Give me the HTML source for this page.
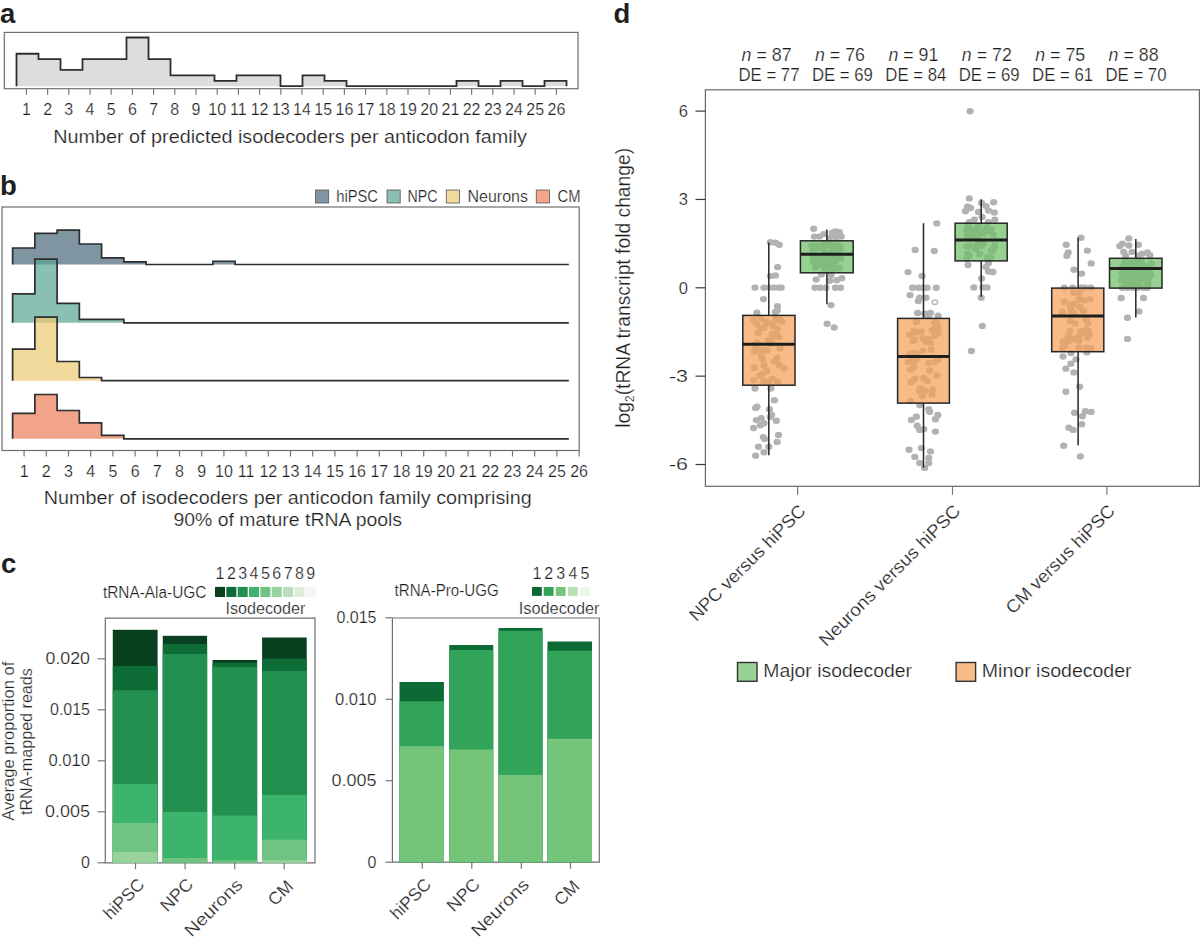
<!DOCTYPE html>
<html><head><meta charset="utf-8"><style>
html,body{margin:0;padding:0;background:#fff;width:1200px;height:938px;overflow:hidden}
svg{display:block;font-family:"Liberation Sans",sans-serif}
text{stroke:#fff;stroke-width:0.22px;paint-order:normal}
text.lab{stroke:none}
</style></head><body>
<svg width="1200" height="938" viewBox="0 0 1200 938">
<text class="lab" x="0" y="23" font-size="27.5" font-weight="bold" fill="#231f20">a</text>
<rect x="4.3" y="32.4" width="573.7" height="56.3" fill="none" stroke="#6e6e6e" stroke-width="1.2"/>
<path d="M16.50,86.20 L16.50,53.74 L38.50,53.74 L38.50,59.15 L60.50,59.15 L60.50,69.97 L82.50,69.97 L82.50,59.15 L104.50,59.15 L104.50,59.15 L126.50,59.15 L126.50,37.51 L148.50,37.51 L148.50,59.15 L170.50,59.15 L170.50,75.38 L192.50,75.38 L192.50,75.38 L214.50,75.38 L214.50,80.79 L236.50,80.79 L236.50,75.38 L258.50,75.38 L258.50,75.38 L280.50,75.38 L280.50,86.20 L302.50,86.20 L302.50,75.38 L324.50,75.38 L324.50,80.79 L346.50,80.79 L346.50,86.20 L368.50,86.20 L368.50,86.20 L390.50,86.20 L390.50,86.20 L412.50,86.20 L412.50,86.20 L434.50,86.20 L434.50,86.20 L456.50,86.20 L456.50,80.79 L478.50,80.79 L478.50,86.20 L500.50,86.20 L500.50,80.79 L522.50,80.79 L522.50,86.20 L544.50,86.20 L544.50,80.79 L566.50,80.79 L566.50,86.20 Z" fill="#dcdddf" stroke="none"/>
<path d="M16.50,86.20 L16.50,53.74 L38.50,53.74 L38.50,59.15 L60.50,59.15 L60.50,69.97 L82.50,69.97 L82.50,59.15 L104.50,59.15 L104.50,59.15 L126.50,59.15 L126.50,37.51 L148.50,37.51 L148.50,59.15 L170.50,59.15 L170.50,75.38 L192.50,75.38 L192.50,75.38 L214.50,75.38 L214.50,80.79 L236.50,80.79 L236.50,75.38 L258.50,75.38 L258.50,75.38 L280.50,75.38 L280.50,86.20 L302.50,86.20 L302.50,75.38 L324.50,75.38 L324.50,80.79 L346.50,80.79 L346.50,86.20 L368.50,86.20 L368.50,86.20 L390.50,86.20 L390.50,86.20 L412.50,86.20 L412.50,86.20 L434.50,86.20 L434.50,86.20 L456.50,86.20 L456.50,80.79 L478.50,80.79 L478.50,86.20 L500.50,86.20 L500.50,80.79 L522.50,80.79 L522.50,86.20 L544.50,86.20 L544.50,80.79 L566.50,80.79 L566.50,86.20" fill="none" stroke="#2e2e2e" stroke-width="1.8" stroke-linejoin="miter"/>
<line x1="26.40" y1="88.7" x2="26.40" y2="94.8" stroke="#777" stroke-width="1.2"/>
<text x="26.40" y="115.20" font-size="16" text-anchor="middle" fill="#1e1e1e">1</text>
<line x1="47.60" y1="88.7" x2="47.60" y2="94.8" stroke="#777" stroke-width="1.2"/>
<text x="47.60" y="115.20" font-size="16" text-anchor="middle" fill="#1e1e1e">2</text>
<line x1="68.80" y1="88.7" x2="68.80" y2="94.8" stroke="#777" stroke-width="1.2"/>
<text x="68.80" y="115.20" font-size="16" text-anchor="middle" fill="#1e1e1e">3</text>
<line x1="90.00" y1="88.7" x2="90.00" y2="94.8" stroke="#777" stroke-width="1.2"/>
<text x="90.00" y="115.20" font-size="16" text-anchor="middle" fill="#1e1e1e">4</text>
<line x1="111.20" y1="88.7" x2="111.20" y2="94.8" stroke="#777" stroke-width="1.2"/>
<text x="111.20" y="115.20" font-size="16" text-anchor="middle" fill="#1e1e1e">5</text>
<line x1="132.40" y1="88.7" x2="132.40" y2="94.8" stroke="#777" stroke-width="1.2"/>
<text x="132.40" y="115.20" font-size="16" text-anchor="middle" fill="#1e1e1e">6</text>
<line x1="153.60" y1="88.7" x2="153.60" y2="94.8" stroke="#777" stroke-width="1.2"/>
<text x="153.60" y="115.20" font-size="16" text-anchor="middle" fill="#1e1e1e">7</text>
<line x1="174.80" y1="88.7" x2="174.80" y2="94.8" stroke="#777" stroke-width="1.2"/>
<text x="174.80" y="115.20" font-size="16" text-anchor="middle" fill="#1e1e1e">8</text>
<line x1="196.00" y1="88.7" x2="196.00" y2="94.8" stroke="#777" stroke-width="1.2"/>
<text x="196.00" y="115.20" font-size="16" text-anchor="middle" fill="#1e1e1e">9</text>
<line x1="217.20" y1="88.7" x2="217.20" y2="94.8" stroke="#777" stroke-width="1.2"/>
<text x="217.20" y="115.20" font-size="16" text-anchor="middle" fill="#1e1e1e">10</text>
<line x1="238.40" y1="88.7" x2="238.40" y2="94.8" stroke="#777" stroke-width="1.2"/>
<text x="238.40" y="115.20" font-size="16" text-anchor="middle" fill="#1e1e1e">11</text>
<line x1="259.60" y1="88.7" x2="259.60" y2="94.8" stroke="#777" stroke-width="1.2"/>
<text x="259.60" y="115.20" font-size="16" text-anchor="middle" fill="#1e1e1e">12</text>
<line x1="280.80" y1="88.7" x2="280.80" y2="94.8" stroke="#777" stroke-width="1.2"/>
<text x="280.80" y="115.20" font-size="16" text-anchor="middle" fill="#1e1e1e">13</text>
<line x1="302.00" y1="88.7" x2="302.00" y2="94.8" stroke="#777" stroke-width="1.2"/>
<text x="302.00" y="115.20" font-size="16" text-anchor="middle" fill="#1e1e1e">14</text>
<line x1="323.20" y1="88.7" x2="323.20" y2="94.8" stroke="#777" stroke-width="1.2"/>
<text x="323.20" y="115.20" font-size="16" text-anchor="middle" fill="#1e1e1e">15</text>
<line x1="344.40" y1="88.7" x2="344.40" y2="94.8" stroke="#777" stroke-width="1.2"/>
<text x="344.40" y="115.20" font-size="16" text-anchor="middle" fill="#1e1e1e">16</text>
<line x1="365.60" y1="88.7" x2="365.60" y2="94.8" stroke="#777" stroke-width="1.2"/>
<text x="365.60" y="115.20" font-size="16" text-anchor="middle" fill="#1e1e1e">17</text>
<line x1="386.80" y1="88.7" x2="386.80" y2="94.8" stroke="#777" stroke-width="1.2"/>
<text x="386.80" y="115.20" font-size="16" text-anchor="middle" fill="#1e1e1e">18</text>
<line x1="408.00" y1="88.7" x2="408.00" y2="94.8" stroke="#777" stroke-width="1.2"/>
<text x="408.00" y="115.20" font-size="16" text-anchor="middle" fill="#1e1e1e">19</text>
<line x1="429.20" y1="88.7" x2="429.20" y2="94.8" stroke="#777" stroke-width="1.2"/>
<text x="429.20" y="115.20" font-size="16" text-anchor="middle" fill="#1e1e1e">20</text>
<line x1="450.40" y1="88.7" x2="450.40" y2="94.8" stroke="#777" stroke-width="1.2"/>
<text x="450.40" y="115.20" font-size="16" text-anchor="middle" fill="#1e1e1e">21</text>
<line x1="471.60" y1="88.7" x2="471.60" y2="94.8" stroke="#777" stroke-width="1.2"/>
<text x="471.60" y="115.20" font-size="16" text-anchor="middle" fill="#1e1e1e">22</text>
<line x1="492.80" y1="88.7" x2="492.80" y2="94.8" stroke="#777" stroke-width="1.2"/>
<text x="492.80" y="115.20" font-size="16" text-anchor="middle" fill="#1e1e1e">23</text>
<line x1="514.00" y1="88.7" x2="514.00" y2="94.8" stroke="#777" stroke-width="1.2"/>
<text x="514.00" y="115.20" font-size="16" text-anchor="middle" fill="#1e1e1e">24</text>
<line x1="535.20" y1="88.7" x2="535.20" y2="94.8" stroke="#777" stroke-width="1.2"/>
<text x="535.20" y="115.20" font-size="16" text-anchor="middle" fill="#1e1e1e">25</text>
<line x1="556.40" y1="88.7" x2="556.40" y2="94.8" stroke="#777" stroke-width="1.2"/>
<text x="556.40" y="115.20" font-size="16" text-anchor="middle" fill="#1e1e1e">26</text>
<text x="53.30" y="142.90" font-size="19" textLength="473.70" lengthAdjust="spacingAndGlyphs" fill="#1e1e1e">Number of predicted isodecoders per anticodon family</text>
<text class="lab" x="0" y="195.3" font-size="27.5" font-weight="bold" fill="#231f20">b</text>
<rect x="315.5" y="190" width="13.2" height="13" fill="#7f95a2" stroke="#555" stroke-width="0.8"/>
<text x="336.25" y="202.20" font-size="16" textLength="41.75" lengthAdjust="spacingAndGlyphs" fill="#1e1e1e">hiPSC</text>
<rect x="387" y="190" width="13.2" height="13" fill="#8bbfb4" stroke="#555" stroke-width="0.8"/>
<text x="407.50" y="202.20" font-size="16" textLength="30.00" lengthAdjust="spacingAndGlyphs" fill="#1e1e1e">NPC</text>
<rect x="446.25" y="190" width="13.2" height="13" fill="#f2d99c" stroke="#555" stroke-width="0.8"/>
<text x="467.50" y="202.20" font-size="16" textLength="60.50" lengthAdjust="spacingAndGlyphs" fill="#1e1e1e">Neurons</text>
<rect x="536.25" y="190" width="13.2" height="13" fill="#f2a58a" stroke="#555" stroke-width="0.8"/>
<text x="557.50" y="202.20" font-size="16" textLength="23.00" lengthAdjust="spacingAndGlyphs" fill="#1e1e1e">CM</text>
<rect x="2" y="207" width="577.2" height="243.5" fill="none" stroke="#6e6e6e" stroke-width="1.2"/>
<path d="M12.60,264.50 L12.60,248.00 L34.85,248.00 L34.85,233.30 L57.10,233.30 L57.10,230.10 L79.35,230.10 L79.35,244.00 L101.60,244.00 L101.60,257.80 L123.85,257.80 L123.85,261.80 L146.10,261.80 L146.10,264.50 L168.35,264.50 L168.35,264.50 L190.60,264.50 L190.60,264.50 L212.85,264.50 L212.85,261.25 L235.10,261.25 L235.10,264.50 L257.35,264.50 L257.35,264.50 L279.60,264.50 L279.60,264.50 L301.85,264.50 L301.85,264.50 L324.10,264.50 L324.10,264.50 L346.35,264.50 L346.35,264.50 L368.60,264.50 L368.60,264.50 L390.85,264.50 L390.85,264.50 L413.10,264.50 L413.10,264.50 L435.35,264.50 L435.35,264.50 L457.60,264.50 L457.60,264.50 L479.85,264.50 L479.85,264.50 L502.10,264.50 L502.10,264.50 L524.35,264.50 L524.35,264.50 L546.60,264.50 L546.60,264.50 L568.85,264.50 L568.85,264.50 Z" fill="#48687a" fill-opacity="0.7" stroke="none"/>
<path d="M12.60,264.50 L12.60,248.00 L34.85,248.00 L34.85,233.30 L57.10,233.30 L57.10,230.10 L79.35,230.10 L79.35,244.00 L101.60,244.00 L101.60,257.80 L123.85,257.80 L123.85,261.80 L146.10,261.80 L146.10,264.50 L168.35,264.50 L168.35,264.50 L190.60,264.50 L190.60,264.50 L212.85,264.50 L212.85,261.25 L235.10,261.25 L235.10,264.50 L257.35,264.50 L257.35,264.50 L279.60,264.50 L279.60,264.50 L301.85,264.50 L301.85,264.50 L324.10,264.50 L324.10,264.50 L346.35,264.50 L346.35,264.50 L368.60,264.50 L368.60,264.50 L390.85,264.50 L390.85,264.50 L413.10,264.50 L413.10,264.50 L435.35,264.50 L435.35,264.50 L457.60,264.50 L457.60,264.50 L479.85,264.50 L479.85,264.50 L502.10,264.50 L502.10,264.50 L524.35,264.50 L524.35,264.50 L546.60,264.50 L546.60,264.50 L568.85,264.50 L568.85,264.50" fill="none" stroke="#2e2e2e" stroke-width="1.7"/>
<path d="M12.60,322.80 L12.60,293.80 L34.85,293.80 L34.85,259.20 L57.10,259.20 L57.10,303.40 L79.35,303.40 L79.35,319.40 L101.60,319.40 L101.60,319.40 L123.85,319.40 L123.85,322.80 L146.10,322.80 L146.10,322.80 L168.35,322.80 L168.35,322.80 L190.60,322.80 L190.60,322.80 L212.85,322.80 L212.85,322.80 L235.10,322.80 L235.10,322.80 L257.35,322.80 L257.35,322.80 L279.60,322.80 L279.60,322.80 L301.85,322.80 L301.85,322.80 L324.10,322.80 L324.10,322.80 L346.35,322.80 L346.35,322.80 L368.60,322.80 L368.60,322.80 L390.85,322.80 L390.85,322.80 L413.10,322.80 L413.10,322.80 L435.35,322.80 L435.35,322.80 L457.60,322.80 L457.60,322.80 L479.85,322.80 L479.85,322.80 L502.10,322.80 L502.10,322.80 L524.35,322.80 L524.35,322.80 L546.60,322.80 L546.60,322.80 L568.85,322.80 L568.85,322.80 Z" fill="#59a494" fill-opacity="0.7" stroke="none"/>
<path d="M12.60,322.80 L12.60,293.80 L34.85,293.80 L34.85,259.20 L57.10,259.20 L57.10,303.40 L79.35,303.40 L79.35,319.40 L101.60,319.40 L101.60,319.40 L123.85,319.40 L123.85,322.80 L146.10,322.80 L146.10,322.80 L168.35,322.80 L168.35,322.80 L190.60,322.80 L190.60,322.80 L212.85,322.80 L212.85,322.80 L235.10,322.80 L235.10,322.80 L257.35,322.80 L257.35,322.80 L279.60,322.80 L279.60,322.80 L301.85,322.80 L301.85,322.80 L324.10,322.80 L324.10,322.80 L346.35,322.80 L346.35,322.80 L368.60,322.80 L368.60,322.80 L390.85,322.80 L390.85,322.80 L413.10,322.80 L413.10,322.80 L435.35,322.80 L435.35,322.80 L457.60,322.80 L457.60,322.80 L479.85,322.80 L479.85,322.80 L502.10,322.80 L502.10,322.80 L524.35,322.80 L524.35,322.80 L546.60,322.80 L546.60,322.80 L568.85,322.80 L568.85,322.80" fill="none" stroke="#2e2e2e" stroke-width="1.7"/>
<path d="M12.60,380.70 L12.60,349.20 L34.85,349.20 L34.85,317.20 L57.10,317.20 L57.10,361.50 L79.35,361.50 L79.35,377.50 L101.60,377.50 L101.60,380.70 L123.85,380.70 L123.85,380.70 L146.10,380.70 L146.10,380.70 L168.35,380.70 L168.35,380.70 L190.60,380.70 L190.60,380.70 L212.85,380.70 L212.85,380.70 L235.10,380.70 L235.10,380.70 L257.35,380.70 L257.35,380.70 L279.60,380.70 L279.60,380.70 L301.85,380.70 L301.85,380.70 L324.10,380.70 L324.10,380.70 L346.35,380.70 L346.35,380.70 L368.60,380.70 L368.60,380.70 L390.85,380.70 L390.85,380.70 L413.10,380.70 L413.10,380.70 L435.35,380.70 L435.35,380.70 L457.60,380.70 L457.60,380.70 L479.85,380.70 L479.85,380.70 L502.10,380.70 L502.10,380.70 L524.35,380.70 L524.35,380.70 L546.60,380.70 L546.60,380.70 L568.85,380.70 L568.85,380.70 Z" fill="#ecc972" fill-opacity="0.7" stroke="none"/>
<path d="M12.60,380.70 L12.60,349.20 L34.85,349.20 L34.85,317.20 L57.10,317.20 L57.10,361.50 L79.35,361.50 L79.35,377.50 L101.60,377.50 L101.60,380.70 L123.85,380.70 L123.85,380.70 L146.10,380.70 L146.10,380.70 L168.35,380.70 L168.35,380.70 L190.60,380.70 L190.60,380.70 L212.85,380.70 L212.85,380.70 L235.10,380.70 L235.10,380.70 L257.35,380.70 L257.35,380.70 L279.60,380.70 L279.60,380.70 L301.85,380.70 L301.85,380.70 L324.10,380.70 L324.10,380.70 L346.35,380.70 L346.35,380.70 L368.60,380.70 L368.60,380.70 L390.85,380.70 L390.85,380.70 L413.10,380.70 L413.10,380.70 L435.35,380.70 L435.35,380.70 L457.60,380.70 L457.60,380.70 L479.85,380.70 L479.85,380.70 L502.10,380.70 L502.10,380.70 L524.35,380.70 L524.35,380.70 L546.60,380.70 L546.60,380.70 L568.85,380.70 L568.85,380.70" fill="none" stroke="#2e2e2e" stroke-width="1.7"/>
<path d="M12.60,438.80 L12.60,413.30 L34.85,413.30 L34.85,394.50 L57.10,394.50 L57.10,410.50 L79.35,410.50 L79.35,422.80 L101.60,422.80 L101.60,435.30 L123.85,435.30 L123.85,438.80 L146.10,438.80 L146.10,438.80 L168.35,438.80 L168.35,438.80 L190.60,438.80 L190.60,438.80 L212.85,438.80 L212.85,438.80 L235.10,438.80 L235.10,438.80 L257.35,438.80 L257.35,438.80 L279.60,438.80 L279.60,438.80 L301.85,438.80 L301.85,438.80 L324.10,438.80 L324.10,438.80 L346.35,438.80 L346.35,438.80 L368.60,438.80 L368.60,438.80 L390.85,438.80 L390.85,438.80 L413.10,438.80 L413.10,438.80 L435.35,438.80 L435.35,438.80 L457.60,438.80 L457.60,438.80 L479.85,438.80 L479.85,438.80 L502.10,438.80 L502.10,438.80 L524.35,438.80 L524.35,438.80 L546.60,438.80 L546.60,438.80 L568.85,438.80 L568.85,438.80 Z" fill="#ec7e58" fill-opacity="0.7" stroke="none"/>
<path d="M12.60,438.80 L12.60,413.30 L34.85,413.30 L34.85,394.50 L57.10,394.50 L57.10,410.50 L79.35,410.50 L79.35,422.80 L101.60,422.80 L101.60,435.30 L123.85,435.30 L123.85,438.80 L146.10,438.80 L146.10,438.80 L168.35,438.80 L168.35,438.80 L190.60,438.80 L190.60,438.80 L212.85,438.80 L212.85,438.80 L235.10,438.80 L235.10,438.80 L257.35,438.80 L257.35,438.80 L279.60,438.80 L279.60,438.80 L301.85,438.80 L301.85,438.80 L324.10,438.80 L324.10,438.80 L346.35,438.80 L346.35,438.80 L368.60,438.80 L368.60,438.80 L390.85,438.80 L390.85,438.80 L413.10,438.80 L413.10,438.80 L435.35,438.80 L435.35,438.80 L457.60,438.80 L457.60,438.80 L479.85,438.80 L479.85,438.80 L502.10,438.80 L502.10,438.80 L524.35,438.80 L524.35,438.80 L546.60,438.80 L546.60,438.80 L568.85,438.80 L568.85,438.80" fill="none" stroke="#2e2e2e" stroke-width="1.7"/>
<line x1="24.10" y1="450.5" x2="24.10" y2="456.5" stroke="#777" stroke-width="1.2"/>
<text x="24.10" y="477.00" font-size="16" text-anchor="middle" fill="#1e1e1e">1</text>
<line x1="46.30" y1="450.5" x2="46.30" y2="456.5" stroke="#777" stroke-width="1.2"/>
<text x="46.30" y="477.00" font-size="16" text-anchor="middle" fill="#1e1e1e">2</text>
<line x1="68.50" y1="450.5" x2="68.50" y2="456.5" stroke="#777" stroke-width="1.2"/>
<text x="68.50" y="477.00" font-size="16" text-anchor="middle" fill="#1e1e1e">3</text>
<line x1="90.70" y1="450.5" x2="90.70" y2="456.5" stroke="#777" stroke-width="1.2"/>
<text x="90.70" y="477.00" font-size="16" text-anchor="middle" fill="#1e1e1e">4</text>
<line x1="112.90" y1="450.5" x2="112.90" y2="456.5" stroke="#777" stroke-width="1.2"/>
<text x="112.90" y="477.00" font-size="16" text-anchor="middle" fill="#1e1e1e">5</text>
<line x1="135.10" y1="450.5" x2="135.10" y2="456.5" stroke="#777" stroke-width="1.2"/>
<text x="135.10" y="477.00" font-size="16" text-anchor="middle" fill="#1e1e1e">6</text>
<line x1="157.30" y1="450.5" x2="157.30" y2="456.5" stroke="#777" stroke-width="1.2"/>
<text x="157.30" y="477.00" font-size="16" text-anchor="middle" fill="#1e1e1e">7</text>
<line x1="179.50" y1="450.5" x2="179.50" y2="456.5" stroke="#777" stroke-width="1.2"/>
<text x="179.50" y="477.00" font-size="16" text-anchor="middle" fill="#1e1e1e">8</text>
<line x1="201.70" y1="450.5" x2="201.70" y2="456.5" stroke="#777" stroke-width="1.2"/>
<text x="201.70" y="477.00" font-size="16" text-anchor="middle" fill="#1e1e1e">9</text>
<line x1="223.90" y1="450.5" x2="223.90" y2="456.5" stroke="#777" stroke-width="1.2"/>
<text x="223.90" y="477.00" font-size="16" text-anchor="middle" fill="#1e1e1e">10</text>
<line x1="246.10" y1="450.5" x2="246.10" y2="456.5" stroke="#777" stroke-width="1.2"/>
<text x="246.10" y="477.00" font-size="16" text-anchor="middle" fill="#1e1e1e">11</text>
<line x1="268.30" y1="450.5" x2="268.30" y2="456.5" stroke="#777" stroke-width="1.2"/>
<text x="268.30" y="477.00" font-size="16" text-anchor="middle" fill="#1e1e1e">12</text>
<line x1="290.50" y1="450.5" x2="290.50" y2="456.5" stroke="#777" stroke-width="1.2"/>
<text x="290.50" y="477.00" font-size="16" text-anchor="middle" fill="#1e1e1e">13</text>
<line x1="312.70" y1="450.5" x2="312.70" y2="456.5" stroke="#777" stroke-width="1.2"/>
<text x="312.70" y="477.00" font-size="16" text-anchor="middle" fill="#1e1e1e">14</text>
<line x1="334.90" y1="450.5" x2="334.90" y2="456.5" stroke="#777" stroke-width="1.2"/>
<text x="334.90" y="477.00" font-size="16" text-anchor="middle" fill="#1e1e1e">15</text>
<line x1="357.10" y1="450.5" x2="357.10" y2="456.5" stroke="#777" stroke-width="1.2"/>
<text x="357.10" y="477.00" font-size="16" text-anchor="middle" fill="#1e1e1e">16</text>
<line x1="379.30" y1="450.5" x2="379.30" y2="456.5" stroke="#777" stroke-width="1.2"/>
<text x="379.30" y="477.00" font-size="16" text-anchor="middle" fill="#1e1e1e">17</text>
<line x1="401.50" y1="450.5" x2="401.50" y2="456.5" stroke="#777" stroke-width="1.2"/>
<text x="401.50" y="477.00" font-size="16" text-anchor="middle" fill="#1e1e1e">18</text>
<line x1="423.70" y1="450.5" x2="423.70" y2="456.5" stroke="#777" stroke-width="1.2"/>
<text x="423.70" y="477.00" font-size="16" text-anchor="middle" fill="#1e1e1e">19</text>
<line x1="445.90" y1="450.5" x2="445.90" y2="456.5" stroke="#777" stroke-width="1.2"/>
<text x="445.90" y="477.00" font-size="16" text-anchor="middle" fill="#1e1e1e">20</text>
<line x1="468.10" y1="450.5" x2="468.10" y2="456.5" stroke="#777" stroke-width="1.2"/>
<text x="468.10" y="477.00" font-size="16" text-anchor="middle" fill="#1e1e1e">21</text>
<line x1="490.30" y1="450.5" x2="490.30" y2="456.5" stroke="#777" stroke-width="1.2"/>
<text x="490.30" y="477.00" font-size="16" text-anchor="middle" fill="#1e1e1e">22</text>
<line x1="512.50" y1="450.5" x2="512.50" y2="456.5" stroke="#777" stroke-width="1.2"/>
<text x="512.50" y="477.00" font-size="16" text-anchor="middle" fill="#1e1e1e">23</text>
<line x1="534.70" y1="450.5" x2="534.70" y2="456.5" stroke="#777" stroke-width="1.2"/>
<text x="534.70" y="477.00" font-size="16" text-anchor="middle" fill="#1e1e1e">24</text>
<line x1="556.90" y1="450.5" x2="556.90" y2="456.5" stroke="#777" stroke-width="1.2"/>
<text x="556.90" y="477.00" font-size="16" text-anchor="middle" fill="#1e1e1e">25</text>
<line x1="579.10" y1="450.5" x2="579.10" y2="456.5" stroke="#777" stroke-width="1.2"/>
<text x="579.10" y="477.00" font-size="16" text-anchor="middle" fill="#1e1e1e">26</text>
<text x="43.75" y="504.00" font-size="19" textLength="488.00" lengthAdjust="spacingAndGlyphs" fill="#1e1e1e">Number of isodecoders per anticodon family comprising</text>
<text x="173.50" y="525.50" font-size="19" textLength="228.50" lengthAdjust="spacingAndGlyphs" fill="#1e1e1e">90% of mature tRNA pools</text>
<text class="lab" x="1" y="572.5" font-size="27.5" font-weight="bold" fill="#231f20">c</text>
<text x="103.00" y="598.30" font-size="16" textLength="103.30" lengthAdjust="spacingAndGlyphs" fill="#1e1e1e">tRNA-Ala-UGC</text>
<rect x="215.00" y="586.9" width="10" height="10.1" fill="#073f1f"/>
<text x="220.00" y="579.00" font-size="16" text-anchor="middle" fill="#1e1e1e">1</text>
<rect x="226.35" y="586.9" width="10" height="10.1" fill="#0e6c37"/>
<text x="231.35" y="579.00" font-size="16" text-anchor="middle" fill="#1e1e1e">2</text>
<rect x="237.70" y="586.9" width="10" height="10.1" fill="#23904f"/>
<text x="242.70" y="579.00" font-size="16" text-anchor="middle" fill="#1e1e1e">3</text>
<rect x="249.05" y="586.9" width="10" height="10.1" fill="#3db46b"/>
<text x="254.05" y="579.00" font-size="16" text-anchor="middle" fill="#1e1e1e">4</text>
<rect x="260.40" y="586.9" width="10" height="10.1" fill="#70c382"/>
<text x="265.40" y="579.00" font-size="16" text-anchor="middle" fill="#1e1e1e">5</text>
<rect x="271.75" y="586.9" width="10" height="10.1" fill="#98d39d"/>
<text x="276.75" y="579.00" font-size="16" text-anchor="middle" fill="#1e1e1e">6</text>
<rect x="283.10" y="586.9" width="10" height="10.1" fill="#b9deb8"/>
<text x="288.10" y="579.00" font-size="16" text-anchor="middle" fill="#1e1e1e">7</text>
<rect x="294.45" y="586.9" width="10" height="10.1" fill="#dbeed9"/>
<text x="299.45" y="579.00" font-size="16" text-anchor="middle" fill="#1e1e1e">8</text>
<rect x="305.80" y="586.9" width="10" height="10.1" fill="#f1f8ef"/>
<text x="310.80" y="579.00" font-size="16" text-anchor="middle" fill="#1e1e1e">9</text>
<text x="225.50" y="614.00" font-size="16" textLength="79.80" lengthAdjust="spacingAndGlyphs" fill="#1e1e1e">Isodecoder</text>
<path d="M105.3,862.8 L105.3,618.2 L315,618.2 L315,862.8 Z" fill="none" stroke="#6e6e6e" stroke-width="1.2"/>
<line x1="97.6" y1="862.80" x2="105.3" y2="862.80" stroke="#777" stroke-width="1.2"/>
<text x="90.00" y="868.40" font-size="16" text-anchor="end" fill="#1e1e1e">0</text>
<line x1="97.6" y1="811.80" x2="105.3" y2="811.80" stroke="#777" stroke-width="1.2"/>
<text x="90.00" y="817.40" font-size="16" text-anchor="end" textLength="45.00" lengthAdjust="spacingAndGlyphs" fill="#1e1e1e">0.005</text>
<line x1="97.6" y1="760.80" x2="105.3" y2="760.80" stroke="#777" stroke-width="1.2"/>
<text x="90.00" y="766.40" font-size="16" text-anchor="end" textLength="41.50" lengthAdjust="spacingAndGlyphs" fill="#1e1e1e">0.010</text>
<line x1="97.6" y1="709.80" x2="105.3" y2="709.80" stroke="#777" stroke-width="1.2"/>
<text x="90.00" y="715.40" font-size="16" text-anchor="end" textLength="40.00" lengthAdjust="spacingAndGlyphs" fill="#1e1e1e">0.015</text>
<line x1="97.6" y1="658.80" x2="105.3" y2="658.80" stroke="#777" stroke-width="1.2"/>
<text x="90.00" y="664.40" font-size="16" text-anchor="end" textLength="44.50" lengthAdjust="spacingAndGlyphs" fill="#1e1e1e">0.020</text>
<rect x="112.8" y="629.80" width="44.80" height="233.00" fill="#073f1f"/>
<rect x="112.8" y="666.00" width="44.80" height="196.80" fill="#0e6c37"/>
<rect x="112.8" y="690.30" width="44.80" height="172.50" fill="#23904f"/>
<rect x="112.8" y="783.90" width="44.80" height="78.90" fill="#3db46b"/>
<rect x="112.8" y="823.00" width="44.80" height="39.80" fill="#70c382"/>
<rect x="112.8" y="852.10" width="44.80" height="10.70" fill="#98d39d"/>
<rect x="162.8" y="635.80" width="44.30" height="227.00" fill="#073f1f"/>
<rect x="162.8" y="644.00" width="44.30" height="218.80" fill="#0e6c37"/>
<rect x="162.8" y="654.00" width="44.30" height="208.80" fill="#23904f"/>
<rect x="162.8" y="812.00" width="44.30" height="50.80" fill="#3db46b"/>
<rect x="162.8" y="858.10" width="44.30" height="4.70" fill="#70c382"/>
<rect x="212.6" y="660.00" width="44.50" height="202.80" fill="#073f1f"/>
<rect x="212.6" y="662.80" width="44.50" height="200.00" fill="#0e6c37"/>
<rect x="212.6" y="666.90" width="44.50" height="195.90" fill="#23904f"/>
<rect x="212.6" y="815.50" width="44.50" height="47.30" fill="#3db46b"/>
<rect x="212.6" y="860.30" width="44.50" height="2.50" fill="#70c382"/>
<rect x="262.1" y="637.50" width="44.60" height="225.30" fill="#073f1f"/>
<rect x="262.1" y="658.60" width="44.60" height="204.20" fill="#0e6c37"/>
<rect x="262.1" y="671.00" width="44.60" height="191.80" fill="#23904f"/>
<rect x="262.1" y="794.90" width="44.60" height="67.90" fill="#3db46b"/>
<rect x="262.1" y="839.70" width="44.60" height="23.10" fill="#70c382"/>
<rect x="262.1" y="860.30" width="44.60" height="2.50" fill="#98d39d"/>
<line x1="135.5" y1="862.8" x2="135.5" y2="869.2" stroke="#777" stroke-width="1.2"/>
<text x="0" y="0" font-size="17.5" text-anchor="end" fill="#1e1e1e" textLength="49.60" lengthAdjust="spacingAndGlyphs" transform="translate(145.50,885.50) rotate(-45)">hiPSC</text>
<line x1="185.1" y1="862.8" x2="185.1" y2="869.2" stroke="#777" stroke-width="1.2"/>
<text x="0" y="0" font-size="17.5" text-anchor="end" fill="#1e1e1e" textLength="38.43" lengthAdjust="spacingAndGlyphs" transform="translate(194.30,885.50) rotate(-45)">NPC</text>
<line x1="234.7" y1="862.8" x2="234.7" y2="869.2" stroke="#777" stroke-width="1.2"/>
<text x="0" y="0" font-size="17.5" text-anchor="end" fill="#1e1e1e" textLength="73.42" lengthAdjust="spacingAndGlyphs" transform="translate(243.50,885.80) rotate(-45)">Neurons</text>
<line x1="284.2" y1="862.8" x2="284.2" y2="869.2" stroke="#777" stroke-width="1.2"/>
<text x="0" y="0" font-size="17.5" text-anchor="end" fill="#1e1e1e" textLength="27.22" lengthAdjust="spacingAndGlyphs" transform="translate(294.20,887.50) rotate(-45)">CM</text>
<text x="0" y="0" font-size="16" text-anchor="middle" fill="#1e1e1e" textLength="159.3" lengthAdjust="spacingAndGlyphs" transform="translate(14.4,741.2) rotate(-90)">Average proportion of</text>
<text x="0" y="0" font-size="16" text-anchor="middle" fill="#1e1e1e" textLength="146.8" lengthAdjust="spacingAndGlyphs" transform="translate(31.7,741.6) rotate(-90)">tRNA-mapped reads</text>
<text x="394.50" y="596.00" font-size="16" textLength="104.25" lengthAdjust="spacingAndGlyphs" fill="#1e1e1e">tRNA-Pro-UGG</text>
<rect x="532.00" y="587" width="9.8" height="8.9" fill="#0c6a35"/>
<text x="536.90" y="579.00" font-size="16" text-anchor="middle" fill="#1e1e1e">1</text>
<rect x="543.75" y="587" width="9.8" height="8.9" fill="#31a45a"/>
<text x="548.65" y="579.00" font-size="16" text-anchor="middle" fill="#1e1e1e">2</text>
<rect x="555.75" y="587" width="9.8" height="8.9" fill="#74c47a"/>
<text x="560.65" y="579.00" font-size="16" text-anchor="middle" fill="#1e1e1e">3</text>
<rect x="568.00" y="587" width="9.8" height="8.9" fill="#b8e0b2"/>
<text x="572.90" y="579.00" font-size="16" text-anchor="middle" fill="#1e1e1e">4</text>
<rect x="580.00" y="587" width="9.8" height="8.9" fill="#eaf6e6"/>
<text x="584.90" y="579.00" font-size="16" text-anchor="middle" fill="#1e1e1e">5</text>
<text x="518.75" y="614.00" font-size="16" textLength="80.75" lengthAdjust="spacingAndGlyphs" fill="#1e1e1e">Isodecoder</text>
<path d="M392.4,862.2 L392.4,618 L599.3,618 L599.3,862.2 Z" fill="none" stroke="#6e6e6e" stroke-width="1.2"/>
<line x1="385.5" y1="862.20" x2="392.4" y2="862.20" stroke="#777" stroke-width="1.2"/>
<text x="376.50" y="867.80" font-size="16" text-anchor="end" fill="#1e1e1e">0</text>
<line x1="385.5" y1="780.74" x2="392.4" y2="780.74" stroke="#777" stroke-width="1.2"/>
<text x="376.50" y="786.34" font-size="16" text-anchor="end" textLength="45.00" lengthAdjust="spacingAndGlyphs" fill="#1e1e1e">0.005</text>
<line x1="385.5" y1="699.27" x2="392.4" y2="699.27" stroke="#777" stroke-width="1.2"/>
<text x="376.50" y="704.87" font-size="16" text-anchor="end" textLength="41.50" lengthAdjust="spacingAndGlyphs" fill="#1e1e1e">0.010</text>
<line x1="385.5" y1="617.81" x2="392.4" y2="617.81" stroke="#777" stroke-width="1.2"/>
<text x="376.50" y="623.41" font-size="16" text-anchor="end" textLength="40.00" lengthAdjust="spacingAndGlyphs" fill="#1e1e1e">0.015</text>
<rect x="399.5" y="682.00" width="44.40" height="180.20" fill="#0c6a35"/>
<rect x="399.5" y="701.25" width="44.40" height="160.95" fill="#31a45a"/>
<rect x="399.5" y="746.20" width="44.40" height="116.00" fill="#74c47a"/>
<rect x="449.25" y="645.00" width="44.00" height="217.20" fill="#0c6a35"/>
<rect x="449.25" y="650.00" width="44.00" height="212.20" fill="#31a45a"/>
<rect x="449.25" y="749.50" width="44.00" height="112.70" fill="#74c47a"/>
<rect x="498.5" y="628.00" width="44.00" height="234.20" fill="#0c6a35"/>
<rect x="498.5" y="630.75" width="44.00" height="231.45" fill="#31a45a"/>
<rect x="498.5" y="774.90" width="44.00" height="87.30" fill="#74c47a"/>
<rect x="547.5" y="641.50" width="44.50" height="220.70" fill="#0c6a35"/>
<rect x="547.5" y="650.75" width="44.50" height="211.45" fill="#31a45a"/>
<rect x="547.5" y="738.80" width="44.50" height="123.40" fill="#74c47a"/>
<line x1="422.3" y1="862.2" x2="422.3" y2="868.8" stroke="#777" stroke-width="1.2"/>
<text x="0" y="0" font-size="17.5" text-anchor="end" fill="#1e1e1e" textLength="49.60" lengthAdjust="spacingAndGlyphs" transform="translate(432.30,885.50) rotate(-45)">hiPSC</text>
<line x1="471.8" y1="862.2" x2="471.8" y2="868.8" stroke="#777" stroke-width="1.2"/>
<text x="0" y="0" font-size="17.5" text-anchor="end" fill="#1e1e1e" textLength="38.43" lengthAdjust="spacingAndGlyphs" transform="translate(481.00,885.50) rotate(-45)">NPC</text>
<line x1="521.3" y1="862.2" x2="521.3" y2="868.8" stroke="#777" stroke-width="1.2"/>
<text x="0" y="0" font-size="17.5" text-anchor="end" fill="#1e1e1e" textLength="73.42" lengthAdjust="spacingAndGlyphs" transform="translate(530.10,885.80) rotate(-45)">Neurons</text>
<line x1="570.5" y1="862.2" x2="570.5" y2="868.8" stroke="#777" stroke-width="1.2"/>
<text x="0" y="0" font-size="17.5" text-anchor="end" fill="#1e1e1e" textLength="27.22" lengthAdjust="spacingAndGlyphs" transform="translate(580.50,887.50) rotate(-45)">CM</text>
<text class="lab" x="613.5" y="22.6" font-size="27.5" font-weight="bold" fill="#231f20">d</text>
<text x="766.60" y="61.3" font-size="18" text-anchor="middle" fill="#1e1e1e" textLength="50" lengthAdjust="spacingAndGlyphs"><tspan font-style="italic">n</tspan> = 87</text>
<text x="769.00" y="81.30" font-size="18" text-anchor="middle" textLength="61.00" lengthAdjust="spacingAndGlyphs" fill="#1e1e1e">DE = 77</text>
<text x="840.00" y="61.3" font-size="18" text-anchor="middle" fill="#1e1e1e" textLength="50" lengthAdjust="spacingAndGlyphs"><tspan font-style="italic">n</tspan> = 76</text>
<text x="842.40" y="81.30" font-size="18" text-anchor="middle" textLength="61.00" lengthAdjust="spacingAndGlyphs" fill="#1e1e1e">DE = 69</text>
<text x="913.40" y="61.3" font-size="18" text-anchor="middle" fill="#1e1e1e" textLength="50" lengthAdjust="spacingAndGlyphs"><tspan font-style="italic">n</tspan> = 91</text>
<text x="915.80" y="81.30" font-size="18" text-anchor="middle" textLength="61.00" lengthAdjust="spacingAndGlyphs" fill="#1e1e1e">DE = 84</text>
<text x="986.80" y="61.3" font-size="18" text-anchor="middle" fill="#1e1e1e" textLength="50" lengthAdjust="spacingAndGlyphs"><tspan font-style="italic">n</tspan> = 72</text>
<text x="989.20" y="81.30" font-size="18" text-anchor="middle" textLength="61.00" lengthAdjust="spacingAndGlyphs" fill="#1e1e1e">DE = 69</text>
<text x="1060.20" y="61.3" font-size="18" text-anchor="middle" fill="#1e1e1e" textLength="50" lengthAdjust="spacingAndGlyphs"><tspan font-style="italic">n</tspan> = 75</text>
<text x="1062.60" y="81.30" font-size="18" text-anchor="middle" textLength="61.00" lengthAdjust="spacingAndGlyphs" fill="#1e1e1e">DE = 61</text>
<text x="1133.60" y="61.3" font-size="18" text-anchor="middle" fill="#1e1e1e" textLength="50" lengthAdjust="spacingAndGlyphs"><tspan font-style="italic">n</tspan> = 88</text>
<text x="1136.00" y="81.30" font-size="18" text-anchor="middle" textLength="61.00" lengthAdjust="spacingAndGlyphs" fill="#1e1e1e">DE = 70</text>
<rect x="705.4" y="89.8" width="494" height="396.5" fill="none" stroke="#666" stroke-width="1.2"/>
<line x1="695.5" y1="111.10" x2="705.4" y2="111.10" stroke="#3a3a3a" stroke-width="1.2"/>
<text x="688.00" y="116.90" font-size="16.5" text-anchor="end" fill="#1e1e1e">6</text>
<line x1="695.5" y1="199.45" x2="705.4" y2="199.45" stroke="#3a3a3a" stroke-width="1.2"/>
<text x="688.00" y="205.25" font-size="16.5" text-anchor="end" fill="#1e1e1e">3</text>
<line x1="695.5" y1="287.80" x2="705.4" y2="287.80" stroke="#3a3a3a" stroke-width="1.2"/>
<text x="688.00" y="293.60" font-size="16.5" text-anchor="end" fill="#1e1e1e">0</text>
<line x1="695.5" y1="376.15" x2="705.4" y2="376.15" stroke="#3a3a3a" stroke-width="1.2"/>
<text x="688.00" y="381.95" font-size="16.5" text-anchor="end" textLength="19.00" lengthAdjust="spacingAndGlyphs" fill="#1e1e1e">-3</text>
<line x1="695.5" y1="464.50" x2="705.4" y2="464.50" stroke="#3a3a3a" stroke-width="1.2"/>
<text x="688.00" y="470.30" font-size="16.5" text-anchor="end" textLength="19.00" lengthAdjust="spacingAndGlyphs" fill="#1e1e1e">-6</text>
<text x="0" y="0" font-size="19.3" text-anchor="middle" fill="#1e1e1e" transform="translate(630,287.8) rotate(-90)">log<tspan font-size="12" dy="4">2</tspan><tspan dy="-4">(tRNA transcript fold change)</tspan></text>
<g fill="#b2b2b2">
<ellipse cx="770.3" cy="242.2" rx="3.6" ry="3.2"/>
<ellipse cx="775.4" cy="242.8" rx="3.6" ry="3.2"/>
<ellipse cx="779.3" cy="244.7" rx="3.6" ry="3.2"/>
<ellipse cx="777.6" cy="267.1" rx="3.6" ry="3.2"/>
<ellipse cx="770.3" cy="276.1" rx="3.6" ry="3.2"/>
<ellipse cx="775.4" cy="275.4" rx="3.6" ry="3.2"/>
<ellipse cx="755" cy="287.6" rx="3.6" ry="3.2"/>
<ellipse cx="763.9" cy="287.6" rx="3.6" ry="3.2"/>
<ellipse cx="769" cy="287.6" rx="3.6" ry="3.2"/>
<ellipse cx="773.5" cy="287.6" rx="3.6" ry="3.2"/>
<ellipse cx="778" cy="287.6" rx="3.6" ry="3.2"/>
<ellipse cx="781.2" cy="287.6" rx="3.6" ry="3.2"/>
<ellipse cx="763.5" cy="299.1" rx="3.6" ry="3.2"/>
<ellipse cx="777.4" cy="306.2" rx="3.6" ry="3.2"/>
<ellipse cx="777.4" cy="310.6" rx="3.6" ry="3.2"/>
<ellipse cx="775.4" cy="311.9" rx="3.6" ry="3.2"/>
<ellipse cx="756.9" cy="312.6" rx="3.6" ry="3.2"/>
<ellipse cx="753.7" cy="320.2" rx="3.6" ry="3.2"/>
<ellipse cx="760.7" cy="318.3" rx="3.6" ry="3.2"/>
<ellipse cx="765.8" cy="321.5" rx="3.6" ry="3.2"/>
<ellipse cx="767.1" cy="323.4" rx="3.6" ry="3.2"/>
<ellipse cx="776.1" cy="318.3" rx="3.6" ry="3.2"/>
<ellipse cx="779.3" cy="319.6" rx="3.6" ry="3.2"/>
<ellipse cx="760.1" cy="327.9" rx="3.6" ry="3.2"/>
<ellipse cx="758.2" cy="333" rx="3.6" ry="3.2"/>
<ellipse cx="773.5" cy="326.6" rx="3.6" ry="3.2"/>
<ellipse cx="777.4" cy="329.2" rx="3.6" ry="3.2"/>
<ellipse cx="772.2" cy="334.3" rx="3.6" ry="3.2"/>
<ellipse cx="776.7" cy="335" rx="3.6" ry="3.2"/>
<ellipse cx="768.4" cy="340.1" rx="3.6" ry="3.2"/>
<ellipse cx="756.9" cy="342.6" rx="3.6" ry="3.2"/>
<ellipse cx="754.3" cy="351.8" rx="3.6" ry="3.2"/>
<ellipse cx="761.9" cy="349.7" rx="3.6" ry="3.2"/>
<ellipse cx="766.7" cy="350.4" rx="3.6" ry="3.2"/>
<ellipse cx="779.9" cy="348.3" rx="3.6" ry="3.2"/>
<ellipse cx="761.2" cy="355.9" rx="3.6" ry="3.2"/>
<ellipse cx="762.6" cy="359.4" rx="3.6" ry="3.2"/>
<ellipse cx="777.1" cy="358" rx="3.6" ry="3.2"/>
<ellipse cx="774.4" cy="361.5" rx="3.6" ry="3.2"/>
<ellipse cx="779.2" cy="365" rx="3.6" ry="3.2"/>
<ellipse cx="784.1" cy="368.4" rx="3.6" ry="3.2"/>
<ellipse cx="754.3" cy="367.7" rx="3.6" ry="3.2"/>
<ellipse cx="764" cy="365.6" rx="3.6" ry="3.2"/>
<ellipse cx="762.6" cy="374" rx="3.6" ry="3.2"/>
<ellipse cx="759.8" cy="375.4" rx="3.6" ry="3.2"/>
<ellipse cx="753.6" cy="380.2" rx="3.6" ry="3.2"/>
<ellipse cx="763.3" cy="380.9" rx="3.6" ry="3.2"/>
<ellipse cx="768.8" cy="381.6" rx="3.6" ry="3.2"/>
<ellipse cx="777.8" cy="381.6" rx="3.6" ry="3.2"/>
<ellipse cx="757" cy="342.8" rx="3.6" ry="3.2"/>
<ellipse cx="771.6" cy="340.7" rx="3.6" ry="3.2"/>
<ellipse cx="755" cy="388.5" rx="3.6" ry="3.2"/>
<ellipse cx="770.9" cy="388.5" rx="3.6" ry="3.2"/>
<ellipse cx="774.4" cy="400.3" rx="3.6" ry="3.2"/>
<ellipse cx="757" cy="406.6" rx="3.6" ry="3.2"/>
<ellipse cx="755.6" cy="407.9" rx="3.6" ry="3.2"/>
<ellipse cx="769.5" cy="409.3" rx="3.6" ry="3.2"/>
<ellipse cx="771.6" cy="414.9" rx="3.6" ry="3.2"/>
<ellipse cx="770.2" cy="417" rx="3.6" ry="3.2"/>
<ellipse cx="761.2" cy="418.3" rx="3.6" ry="3.2"/>
<ellipse cx="756.3" cy="420.1" rx="3.6" ry="3.2"/>
<ellipse cx="764" cy="423.2" rx="3.6" ry="3.2"/>
<ellipse cx="760.5" cy="425.3" rx="3.6" ry="3.2"/>
<ellipse cx="753.6" cy="428" rx="3.6" ry="3.2"/>
<ellipse cx="776.4" cy="420.7" rx="3.6" ry="3.2"/>
<ellipse cx="763.3" cy="437.1" rx="3.6" ry="3.2"/>
<ellipse cx="764.7" cy="439.1" rx="3.6" ry="3.2"/>
<ellipse cx="778.5" cy="435" rx="3.6" ry="3.2"/>
<ellipse cx="777.1" cy="441.9" rx="3.6" ry="3.2"/>
<ellipse cx="758.4" cy="446.8" rx="3.6" ry="3.2"/>
<ellipse cx="768.8" cy="446.8" rx="3.6" ry="3.2"/>
<ellipse cx="764" cy="452.3" rx="3.6" ry="3.2"/>
<ellipse cx="755.6" cy="455.8" rx="3.6" ry="3.2"/>
<ellipse cx="763.9" cy="328.0" rx="3.6" ry="3.2"/>
<ellipse cx="773.0" cy="323.0" rx="3.6" ry="3.2"/>
<ellipse cx="769.8" cy="341.7" rx="3.6" ry="3.2"/>
<ellipse cx="756.4" cy="350.8" rx="3.6" ry="3.2"/>
<ellipse cx="755.8" cy="346.1" rx="3.6" ry="3.2"/>
<ellipse cx="756.8" cy="324.2" rx="3.6" ry="3.2"/>
<ellipse cx="766.7" cy="371.2" rx="3.6" ry="3.2"/>
<ellipse cx="758.3" cy="332.6" rx="3.6" ry="3.2"/>
<ellipse cx="772.4" cy="378.9" rx="3.6" ry="3.2"/>
<ellipse cx="771.0" cy="343.7" rx="3.6" ry="3.2"/>
<ellipse cx="782.1" cy="321.4" rx="3.6" ry="3.2"/>
<ellipse cx="778.8" cy="336.9" rx="3.6" ry="3.2"/>
<ellipse cx="813.7" cy="228.7" rx="3.6" ry="3.2"/>
<ellipse cx="835.4" cy="231.5" rx="3.6" ry="3.2"/>
<ellipse cx="839.3" cy="232.2" rx="3.6" ry="3.2"/>
<ellipse cx="832.2" cy="232.8" rx="3.6" ry="3.2"/>
<ellipse cx="823.9" cy="234.1" rx="3.6" ry="3.2"/>
<ellipse cx="814.3" cy="236.6" rx="3.6" ry="3.2"/>
<ellipse cx="819.4" cy="236.6" rx="3.6" ry="3.2"/>
<ellipse cx="841.2" cy="236.6" rx="3.6" ry="3.2"/>
<ellipse cx="829.7" cy="237.9" rx="3.6" ry="3.2"/>
<ellipse cx="836.1" cy="237.3" rx="3.6" ry="3.2"/>
<ellipse cx="816.9" cy="245.6" rx="3.6" ry="3.2"/>
<ellipse cx="813" cy="249.4" rx="3.6" ry="3.2"/>
<ellipse cx="822" cy="248.8" rx="3.6" ry="3.2"/>
<ellipse cx="831" cy="245" rx="3.6" ry="3.2"/>
<ellipse cx="837.4" cy="245.6" rx="3.6" ry="3.2"/>
<ellipse cx="833.5" cy="249.4" rx="3.6" ry="3.2"/>
<ellipse cx="839.9" cy="250.1" rx="3.6" ry="3.2"/>
<ellipse cx="813" cy="261" rx="3.6" ry="3.2"/>
<ellipse cx="818.2" cy="262.2" rx="3.6" ry="3.2"/>
<ellipse cx="828.4" cy="258.4" rx="3.6" ry="3.2"/>
<ellipse cx="834.8" cy="258.4" rx="3.6" ry="3.2"/>
<ellipse cx="840.6" cy="258.4" rx="3.6" ry="3.2"/>
<ellipse cx="831" cy="264.2" rx="3.6" ry="3.2"/>
<ellipse cx="815.6" cy="267.4" rx="3.6" ry="3.2"/>
<ellipse cx="839.3" cy="268" rx="3.6" ry="3.2"/>
<ellipse cx="824.6" cy="268.6" rx="3.6" ry="3.2"/>
<ellipse cx="820.7" cy="264.8" rx="3.6" ry="3.2"/>
<ellipse cx="811.8" cy="245.6" rx="3.6" ry="3.2"/>
<ellipse cx="823.9" cy="244.3" rx="3.6" ry="3.2"/>
<ellipse cx="821.4" cy="274.4" rx="3.6" ry="3.2"/>
<ellipse cx="831" cy="275" rx="3.6" ry="3.2"/>
<ellipse cx="816.2" cy="279.5" rx="3.6" ry="3.2"/>
<ellipse cx="829.7" cy="280.8" rx="3.6" ry="3.2"/>
<ellipse cx="836.7" cy="280.2" rx="3.6" ry="3.2"/>
<ellipse cx="841.8" cy="278.2" rx="3.6" ry="3.2"/>
<ellipse cx="815" cy="287.8" rx="3.6" ry="3.2"/>
<ellipse cx="820.1" cy="287.8" rx="3.6" ry="3.2"/>
<ellipse cx="825.8" cy="287.8" rx="3.6" ry="3.2"/>
<ellipse cx="835.4" cy="287.8" rx="3.6" ry="3.2"/>
<ellipse cx="840.6" cy="287.8" rx="3.6" ry="3.2"/>
<ellipse cx="831" cy="305.1" rx="3.6" ry="3.2"/>
<ellipse cx="827.1" cy="323.7" rx="3.6" ry="3.2"/>
<ellipse cx="834.2" cy="327.5" rx="3.6" ry="3.2"/>
<ellipse cx="816.9" cy="246.9" rx="3.6" ry="3.2"/>
<ellipse cx="821.5" cy="265.0" rx="3.6" ry="3.2"/>
<ellipse cx="818.0" cy="258.9" rx="3.6" ry="3.2"/>
<ellipse cx="830.8" cy="253.5" rx="3.6" ry="3.2"/>
<ellipse cx="828.2" cy="245.4" rx="3.6" ry="3.2"/>
<ellipse cx="814.6" cy="249.2" rx="3.6" ry="3.2"/>
<ellipse cx="832.0" cy="254.9" rx="3.6" ry="3.2"/>
<ellipse cx="821.7" cy="259.0" rx="3.6" ry="3.2"/>
<ellipse cx="825.6" cy="251.6" rx="3.6" ry="3.2"/>
<ellipse cx="835.1" cy="262.0" rx="3.6" ry="3.2"/>
<ellipse cx="819.7" cy="258.7" rx="3.6" ry="3.2"/>
<ellipse cx="827.6" cy="266.6" rx="3.6" ry="3.2"/>
<ellipse cx="833.3" cy="251.3" rx="3.6" ry="3.2"/>
<ellipse cx="840.3" cy="246.9" rx="3.6" ry="3.2"/>
<ellipse cx="824.6" cy="263.5" rx="3.6" ry="3.2"/>
<ellipse cx="817.2" cy="256.5" rx="3.6" ry="3.2"/>
<ellipse cx="814.0" cy="261.2" rx="3.6" ry="3.2"/>
<ellipse cx="834.3" cy="258.7" rx="3.6" ry="3.2"/>
<ellipse cx="837.4" cy="252.0" rx="3.6" ry="3.2"/>
<ellipse cx="832.4" cy="259.3" rx="3.6" ry="3.2"/>
<ellipse cx="829.1" cy="255.7" rx="3.6" ry="3.2"/>
<ellipse cx="836.4" cy="268.4" rx="3.6" ry="3.2"/>
<ellipse cx="826.2" cy="261.1" rx="3.6" ry="3.2"/>
<ellipse cx="814.6" cy="262.0" rx="3.6" ry="3.2"/>
<ellipse cx="831.0" cy="269.6" rx="3.6" ry="3.2"/>
<ellipse cx="835.9" cy="251.2" rx="3.6" ry="3.2"/>
<ellipse cx="823.7" cy="261.2" rx="3.6" ry="3.2"/>
<ellipse cx="813.5" cy="255.8" rx="3.6" ry="3.2"/>
<ellipse cx="936.8" cy="223.4" rx="3.6" ry="3.2"/>
<ellipse cx="915.1" cy="249.9" rx="3.6" ry="3.2"/>
<ellipse cx="934.3" cy="251" rx="3.6" ry="3.2"/>
<ellipse cx="908" cy="272.1" rx="3.6" ry="3.2"/>
<ellipse cx="922.1" cy="275.9" rx="3.6" ry="3.2"/>
<ellipse cx="912.5" cy="287.7" rx="3.6" ry="3.2"/>
<ellipse cx="918.3" cy="287.7" rx="3.6" ry="3.2"/>
<ellipse cx="922.8" cy="287.7" rx="3.6" ry="3.2"/>
<ellipse cx="927.2" cy="287.7" rx="3.6" ry="3.2"/>
<ellipse cx="936.2" cy="287.7" rx="3.6" ry="3.2"/>
<ellipse cx="910" cy="295.1" rx="3.6" ry="3.2"/>
<ellipse cx="919.6" cy="297.7" rx="3.6" ry="3.2"/>
<ellipse cx="926" cy="297.7" rx="3.6" ry="3.2"/>
<ellipse cx="918.3" cy="301.1" rx="3.6" ry="3.2"/>
<ellipse cx="917.6" cy="313" rx="3.6" ry="3.2"/>
<ellipse cx="924.7" cy="313.7" rx="3.6" ry="3.2"/>
<ellipse cx="930.4" cy="313" rx="3.6" ry="3.2"/>
<ellipse cx="938.1" cy="315.6" rx="3.6" ry="3.2"/>
<ellipse cx="928.5" cy="316.2" rx="3.6" ry="3.2"/>
<ellipse cx="916.4" cy="321.4" rx="3.6" ry="3.2"/>
<ellipse cx="936.2" cy="322.6" rx="3.6" ry="3.2"/>
<ellipse cx="938.1" cy="327.1" rx="3.6" ry="3.2"/>
<ellipse cx="916.4" cy="321.7" rx="3.6" ry="3.2"/>
<ellipse cx="934.6" cy="322.5" rx="3.6" ry="3.2"/>
<ellipse cx="936.2" cy="327.4" rx="3.6" ry="3.2"/>
<ellipse cx="932.1" cy="329.9" rx="3.6" ry="3.2"/>
<ellipse cx="937.9" cy="332.4" rx="3.6" ry="3.2"/>
<ellipse cx="909.8" cy="334.9" rx="3.6" ry="3.2"/>
<ellipse cx="916.4" cy="332.4" rx="3.6" ry="3.2"/>
<ellipse cx="921.4" cy="331.6" rx="3.6" ry="3.2"/>
<ellipse cx="934.6" cy="335.7" rx="3.6" ry="3.2"/>
<ellipse cx="923" cy="338.2" rx="3.6" ry="3.2"/>
<ellipse cx="928" cy="339" rx="3.6" ry="3.2"/>
<ellipse cx="930.5" cy="343.1" rx="3.6" ry="3.2"/>
<ellipse cx="931.3" cy="349.8" rx="3.6" ry="3.2"/>
<ellipse cx="923" cy="350.6" rx="3.6" ry="3.2"/>
<ellipse cx="913.1" cy="353.1" rx="3.6" ry="3.2"/>
<ellipse cx="908.1" cy="362.1" rx="3.6" ry="3.2"/>
<ellipse cx="913.9" cy="362.1" rx="3.6" ry="3.2"/>
<ellipse cx="928.8" cy="363" rx="3.6" ry="3.2"/>
<ellipse cx="934.6" cy="362.1" rx="3.6" ry="3.2"/>
<ellipse cx="937.9" cy="359.7" rx="3.6" ry="3.2"/>
<ellipse cx="913.9" cy="367.1" rx="3.6" ry="3.2"/>
<ellipse cx="910.6" cy="369.6" rx="3.6" ry="3.2"/>
<ellipse cx="929.6" cy="370.4" rx="3.6" ry="3.2"/>
<ellipse cx="937.1" cy="375.4" rx="3.6" ry="3.2"/>
<ellipse cx="914.8" cy="378.7" rx="3.6" ry="3.2"/>
<ellipse cx="911.4" cy="382" rx="3.6" ry="3.2"/>
<ellipse cx="923.8" cy="377.9" rx="3.6" ry="3.2"/>
<ellipse cx="927.1" cy="381.2" rx="3.6" ry="3.2"/>
<ellipse cx="920.5" cy="388.6" rx="3.6" ry="3.2"/>
<ellipse cx="922.2" cy="396" rx="3.6" ry="3.2"/>
<ellipse cx="932.1" cy="394.4" rx="3.6" ry="3.2"/>
<ellipse cx="910.6" cy="401" rx="3.6" ry="3.2"/>
<ellipse cx="919.7" cy="405.1" rx="3.6" ry="3.2"/>
<ellipse cx="928.8" cy="409.3" rx="3.6" ry="3.2"/>
<ellipse cx="929.6" cy="411.7" rx="3.6" ry="3.2"/>
<ellipse cx="937.9" cy="415" rx="3.6" ry="3.2"/>
<ellipse cx="935.4" cy="419.2" rx="3.6" ry="3.2"/>
<ellipse cx="916.4" cy="416.7" rx="3.6" ry="3.2"/>
<ellipse cx="911.4" cy="420" rx="3.6" ry="3.2"/>
<ellipse cx="917.2" cy="425.8" rx="3.6" ry="3.2"/>
<ellipse cx="919.7" cy="429.9" rx="3.6" ry="3.2"/>
<ellipse cx="923.8" cy="429.1" rx="3.6" ry="3.2"/>
<ellipse cx="935.4" cy="431.6" rx="3.6" ry="3.2"/>
<ellipse cx="909" cy="449.8" rx="3.6" ry="3.2"/>
<ellipse cx="921.4" cy="448.1" rx="3.6" ry="3.2"/>
<ellipse cx="930.5" cy="451.4" rx="3.6" ry="3.2"/>
<ellipse cx="914.8" cy="456.9" rx="3.6" ry="3.2"/>
<ellipse cx="928.8" cy="458" rx="3.6" ry="3.2"/>
<ellipse cx="919.7" cy="463" rx="3.6" ry="3.2"/>
<ellipse cx="928.8" cy="463" rx="3.6" ry="3.2"/>
<ellipse cx="924.7" cy="467.9" rx="3.6" ry="3.2"/>
<ellipse cx="914.2" cy="330.6" rx="3.6" ry="3.2"/>
<ellipse cx="911.2" cy="381.9" rx="3.6" ry="3.2"/>
<ellipse cx="913.1" cy="340.9" rx="3.6" ry="3.2"/>
<ellipse cx="920.4" cy="390.0" rx="3.6" ry="3.2"/>
<ellipse cx="911.8" cy="356.8" rx="3.6" ry="3.2"/>
<ellipse cx="924.9" cy="390.9" rx="3.6" ry="3.2"/>
<ellipse cx="932.4" cy="389.4" rx="3.6" ry="3.2"/>
<ellipse cx="917.3" cy="354.1" rx="3.6" ry="3.2"/>
<ellipse cx="919.5" cy="391.0" rx="3.6" ry="3.2"/>
<ellipse cx="936.3" cy="333.3" rx="3.6" ry="3.2"/>
<ellipse cx="914.4" cy="339.7" rx="3.6" ry="3.2"/>
<ellipse cx="916.0" cy="359.6" rx="3.6" ry="3.2"/>
<ellipse cx="926.0" cy="342.1" rx="3.6" ry="3.2"/>
<ellipse cx="909.6" cy="354.4" rx="3.6" ry="3.2"/>
<ellipse cx="970.1" cy="111.3" rx="3.6" ry="3.2"/>
<ellipse cx="969.3" cy="198.4" rx="3.6" ry="3.2"/>
<ellipse cx="993.6" cy="202.3" rx="3.6" ry="3.2"/>
<ellipse cx="981.5" cy="202.9" rx="3.6" ry="3.2"/>
<ellipse cx="986" cy="206.1" rx="3.6" ry="3.2"/>
<ellipse cx="967.4" cy="206.8" rx="3.6" ry="3.2"/>
<ellipse cx="970.6" cy="208" rx="3.6" ry="3.2"/>
<ellipse cx="965.5" cy="211.2" rx="3.6" ry="3.2"/>
<ellipse cx="988.5" cy="210.6" rx="3.6" ry="3.2"/>
<ellipse cx="994.3" cy="212.5" rx="3.6" ry="3.2"/>
<ellipse cx="978.3" cy="211.9" rx="3.6" ry="3.2"/>
<ellipse cx="982.1" cy="217" rx="3.6" ry="3.2"/>
<ellipse cx="974.4" cy="219.6" rx="3.6" ry="3.2"/>
<ellipse cx="994.9" cy="219.6" rx="3.6" ry="3.2"/>
<ellipse cx="988.5" cy="222.1" rx="3.6" ry="3.2"/>
<ellipse cx="969.3" cy="222.1" rx="3.6" ry="3.2"/>
<ellipse cx="967.4" cy="227.2" rx="3.6" ry="3.2"/>
<ellipse cx="978.3" cy="226" rx="3.6" ry="3.2"/>
<ellipse cx="969.3" cy="232.4" rx="3.6" ry="3.2"/>
<ellipse cx="986" cy="229.8" rx="3.6" ry="3.2"/>
<ellipse cx="991.1" cy="229.2" rx="3.6" ry="3.2"/>
<ellipse cx="983.4" cy="233.6" rx="3.6" ry="3.2"/>
<ellipse cx="993.6" cy="234.9" rx="3.6" ry="3.2"/>
<ellipse cx="967.4" cy="236.2" rx="3.6" ry="3.2"/>
<ellipse cx="978.3" cy="239.4" rx="3.6" ry="3.2"/>
<ellipse cx="966.8" cy="246.4" rx="3.6" ry="3.2"/>
<ellipse cx="983.4" cy="243.9" rx="3.6" ry="3.2"/>
<ellipse cx="994.9" cy="245.2" rx="3.6" ry="3.2"/>
<ellipse cx="975.7" cy="249" rx="3.6" ry="3.2"/>
<ellipse cx="991.7" cy="250.3" rx="3.6" ry="3.2"/>
<ellipse cx="969.3" cy="255.4" rx="3.6" ry="3.2"/>
<ellipse cx="979.6" cy="254.1" rx="3.6" ry="3.2"/>
<ellipse cx="987.2" cy="257.3" rx="3.6" ry="3.2"/>
<ellipse cx="966.8" cy="258.6" rx="3.6" ry="3.2"/>
<ellipse cx="968" cy="265" rx="3.6" ry="3.2"/>
<ellipse cx="988.5" cy="263.1" rx="3.6" ry="3.2"/>
<ellipse cx="986" cy="266.9" rx="3.6" ry="3.2"/>
<ellipse cx="988.5" cy="271.4" rx="3.6" ry="3.2"/>
<ellipse cx="993" cy="272" rx="3.6" ry="3.2"/>
<ellipse cx="981.5" cy="278.4" rx="3.6" ry="3.2"/>
<ellipse cx="973.8" cy="287.4" rx="3.6" ry="3.2"/>
<ellipse cx="982.8" cy="287.4" rx="3.6" ry="3.2"/>
<ellipse cx="987.2" cy="287.4" rx="3.6" ry="3.2"/>
<ellipse cx="981.2" cy="297.7" rx="3.6" ry="3.2"/>
<ellipse cx="982.3" cy="326" rx="3.6" ry="3.2"/>
<ellipse cx="971.4" cy="351" rx="3.6" ry="3.2"/>
<ellipse cx="977.5" cy="244.2" rx="3.6" ry="3.2"/>
<ellipse cx="993.9" cy="248.1" rx="3.6" ry="3.2"/>
<ellipse cx="981.6" cy="245.8" rx="3.6" ry="3.2"/>
<ellipse cx="986.1" cy="227.9" rx="3.6" ry="3.2"/>
<ellipse cx="992.4" cy="250.9" rx="3.6" ry="3.2"/>
<ellipse cx="991.7" cy="251.5" rx="3.6" ry="3.2"/>
<ellipse cx="978.2" cy="238.8" rx="3.6" ry="3.2"/>
<ellipse cx="970.1" cy="246.3" rx="3.6" ry="3.2"/>
<ellipse cx="968.9" cy="228.3" rx="3.6" ry="3.2"/>
<ellipse cx="973.0" cy="231.3" rx="3.6" ry="3.2"/>
<ellipse cx="976.7" cy="227.9" rx="3.6" ry="3.2"/>
<ellipse cx="967.2" cy="231.0" rx="3.6" ry="3.2"/>
<ellipse cx="970.0" cy="237.7" rx="3.6" ry="3.2"/>
<ellipse cx="967.9" cy="253.9" rx="3.6" ry="3.2"/>
<ellipse cx="984.4" cy="230.9" rx="3.6" ry="3.2"/>
<ellipse cx="974.3" cy="237.2" rx="3.6" ry="3.2"/>
<ellipse cx="977.4" cy="230.1" rx="3.6" ry="3.2"/>
<ellipse cx="991.0" cy="257.7" rx="3.6" ry="3.2"/>
<ellipse cx="980.2" cy="241.5" rx="3.6" ry="3.2"/>
<ellipse cx="969.6" cy="229.4" rx="3.6" ry="3.2"/>
<ellipse cx="976.8" cy="234.6" rx="3.6" ry="3.2"/>
<ellipse cx="990.4" cy="231.3" rx="3.6" ry="3.2"/>
<ellipse cx="1081" cy="237.8" rx="3.6" ry="3.2"/>
<ellipse cx="1066.2" cy="244.8" rx="3.6" ry="3.2"/>
<ellipse cx="1068.2" cy="252.5" rx="3.6" ry="3.2"/>
<ellipse cx="1066.9" cy="255.7" rx="3.6" ry="3.2"/>
<ellipse cx="1087.4" cy="250.6" rx="3.6" ry="3.2"/>
<ellipse cx="1091.2" cy="263.4" rx="3.6" ry="3.2"/>
<ellipse cx="1073.9" cy="269.8" rx="3.6" ry="3.2"/>
<ellipse cx="1081.6" cy="273.6" rx="3.6" ry="3.2"/>
<ellipse cx="1064.3" cy="287.7" rx="3.6" ry="3.2"/>
<ellipse cx="1072.6" cy="287.7" rx="3.6" ry="3.2"/>
<ellipse cx="1081" cy="287.7" rx="3.6" ry="3.2"/>
<ellipse cx="1084.8" cy="287.7" rx="3.6" ry="3.2"/>
<ellipse cx="1090.6" cy="287.7" rx="3.6" ry="3.2"/>
<ellipse cx="1064.3" cy="301.8" rx="3.6" ry="3.2"/>
<ellipse cx="1070.1" cy="305" rx="3.6" ry="3.2"/>
<ellipse cx="1070.7" cy="308.2" rx="3.6" ry="3.2"/>
<ellipse cx="1079.7" cy="299.2" rx="3.6" ry="3.2"/>
<ellipse cx="1084.2" cy="300.5" rx="3.6" ry="3.2"/>
<ellipse cx="1089.9" cy="299.2" rx="3.6" ry="3.2"/>
<ellipse cx="1079.7" cy="306.9" rx="3.6" ry="3.2"/>
<ellipse cx="1062.4" cy="312" rx="3.6" ry="3.2"/>
<ellipse cx="1073.9" cy="313.3" rx="3.6" ry="3.2"/>
<ellipse cx="1083.5" cy="310.8" rx="3.6" ry="3.2"/>
<ellipse cx="1086.1" cy="319.7" rx="3.6" ry="3.2"/>
<ellipse cx="1088" cy="323.6" rx="3.6" ry="3.2"/>
<ellipse cx="1075.2" cy="323.6" rx="3.6" ry="3.2"/>
<ellipse cx="1070.1" cy="330.6" rx="3.6" ry="3.2"/>
<ellipse cx="1081" cy="331.2" rx="3.6" ry="3.2"/>
<ellipse cx="1086.1" cy="330" rx="3.6" ry="3.2"/>
<ellipse cx="1089.3" cy="334.4" rx="3.6" ry="3.2"/>
<ellipse cx="1068.2" cy="336.4" rx="3.6" ry="3.2"/>
<ellipse cx="1073.3" cy="338.9" rx="3.6" ry="3.2"/>
<ellipse cx="1079" cy="339.6" rx="3.6" ry="3.2"/>
<ellipse cx="1063.7" cy="341.5" rx="3.6" ry="3.2"/>
<ellipse cx="1063" cy="342.2" rx="3.6" ry="3.2"/>
<ellipse cx="1068.8" cy="341.4" rx="3.6" ry="3.2"/>
<ellipse cx="1078.8" cy="340.7" rx="3.6" ry="3.2"/>
<ellipse cx="1062.3" cy="347.9" rx="3.6" ry="3.2"/>
<ellipse cx="1091.1" cy="348.6" rx="3.6" ry="3.2"/>
<ellipse cx="1063" cy="356.5" rx="3.6" ry="3.2"/>
<ellipse cx="1070.9" cy="353" rx="3.6" ry="3.2"/>
<ellipse cx="1086.8" cy="352.2" rx="3.6" ry="3.2"/>
<ellipse cx="1076" cy="359.4" rx="3.6" ry="3.2"/>
<ellipse cx="1070.9" cy="363.7" rx="3.6" ry="3.2"/>
<ellipse cx="1065.9" cy="368.8" rx="3.6" ry="3.2"/>
<ellipse cx="1073.8" cy="372.4" rx="3.6" ry="3.2"/>
<ellipse cx="1079.6" cy="386.8" rx="3.6" ry="3.2"/>
<ellipse cx="1065.9" cy="391.8" rx="3.6" ry="3.2"/>
<ellipse cx="1074.5" cy="412.7" rx="3.6" ry="3.2"/>
<ellipse cx="1085.3" cy="411.2" rx="3.6" ry="3.2"/>
<ellipse cx="1091.1" cy="411.9" rx="3.6" ry="3.2"/>
<ellipse cx="1082.4" cy="416.3" rx="3.6" ry="3.2"/>
<ellipse cx="1081.7" cy="424.2" rx="3.6" ry="3.2"/>
<ellipse cx="1068.8" cy="427.8" rx="3.6" ry="3.2"/>
<ellipse cx="1073.1" cy="429.9" rx="3.6" ry="3.2"/>
<ellipse cx="1063.7" cy="445.8" rx="3.6" ry="3.2"/>
<ellipse cx="1080.3" cy="456.5" rx="3.6" ry="3.2"/>
<ellipse cx="1064.7" cy="345.9" rx="3.6" ry="3.2"/>
<ellipse cx="1078.9" cy="299.5" rx="3.6" ry="3.2"/>
<ellipse cx="1079.3" cy="292.7" rx="3.6" ry="3.2"/>
<ellipse cx="1078.9" cy="347.5" rx="3.6" ry="3.2"/>
<ellipse cx="1088.3" cy="331.2" rx="3.6" ry="3.2"/>
<ellipse cx="1071.4" cy="312.2" rx="3.6" ry="3.2"/>
<ellipse cx="1068.8" cy="335.6" rx="3.6" ry="3.2"/>
<ellipse cx="1079.0" cy="336.0" rx="3.6" ry="3.2"/>
<ellipse cx="1073.3" cy="303.9" rx="3.6" ry="3.2"/>
<ellipse cx="1086.8" cy="347.8" rx="3.6" ry="3.2"/>
<ellipse cx="1088.0" cy="337.5" rx="3.6" ry="3.2"/>
<ellipse cx="1087.0" cy="333.7" rx="3.6" ry="3.2"/>
<ellipse cx="1070.4" cy="320.9" rx="3.6" ry="3.2"/>
<ellipse cx="1074.1" cy="292.8" rx="3.6" ry="3.2"/>
<ellipse cx="1128.8" cy="238.4" rx="3.6" ry="3.2"/>
<ellipse cx="1122.4" cy="243.6" rx="3.6" ry="3.2"/>
<ellipse cx="1119.8" cy="246.1" rx="3.6" ry="3.2"/>
<ellipse cx="1128.8" cy="245.5" rx="3.6" ry="3.2"/>
<ellipse cx="1138.4" cy="244.8" rx="3.6" ry="3.2"/>
<ellipse cx="1123.7" cy="251.9" rx="3.6" ry="3.2"/>
<ellipse cx="1132" cy="251.9" rx="3.6" ry="3.2"/>
<ellipse cx="1142.2" cy="253.8" rx="3.6" ry="3.2"/>
<ellipse cx="1147.4" cy="252.5" rx="3.6" ry="3.2"/>
<ellipse cx="1149.9" cy="255.1" rx="3.6" ry="3.2"/>
<ellipse cx="1125.6" cy="255.7" rx="3.6" ry="3.2"/>
<ellipse cx="1138.4" cy="255.7" rx="3.6" ry="3.2"/>
<ellipse cx="1124.3" cy="263.4" rx="3.6" ry="3.2"/>
<ellipse cx="1132" cy="262.8" rx="3.6" ry="3.2"/>
<ellipse cx="1141" cy="262.1" rx="3.6" ry="3.2"/>
<ellipse cx="1151.2" cy="263.4" rx="3.6" ry="3.2"/>
<ellipse cx="1121.8" cy="273.6" rx="3.6" ry="3.2"/>
<ellipse cx="1130.7" cy="274.9" rx="3.6" ry="3.2"/>
<ellipse cx="1137.1" cy="277.5" rx="3.6" ry="3.2"/>
<ellipse cx="1143.5" cy="273" rx="3.6" ry="3.2"/>
<ellipse cx="1150.6" cy="274.9" rx="3.6" ry="3.2"/>
<ellipse cx="1129.4" cy="278.8" rx="3.6" ry="3.2"/>
<ellipse cx="1138.4" cy="271.1" rx="3.6" ry="3.2"/>
<ellipse cx="1122.4" cy="287.7" rx="3.6" ry="3.2"/>
<ellipse cx="1127.5" cy="287.7" rx="3.6" ry="3.2"/>
<ellipse cx="1132.6" cy="287.7" rx="3.6" ry="3.2"/>
<ellipse cx="1137.8" cy="287.7" rx="3.6" ry="3.2"/>
<ellipse cx="1143.5" cy="287.7" rx="3.6" ry="3.2"/>
<ellipse cx="1147.4" cy="287.7" rx="3.6" ry="3.2"/>
<ellipse cx="1121.1" cy="298" rx="3.6" ry="3.2"/>
<ellipse cx="1143.5" cy="298" rx="3.6" ry="3.2"/>
<ellipse cx="1139" cy="311.4" rx="3.6" ry="3.2"/>
<ellipse cx="1127.5" cy="317.8" rx="3.6" ry="3.2"/>
<ellipse cx="1127.5" cy="338.9" rx="3.6" ry="3.2"/>
<ellipse cx="1122.6" cy="268.0" rx="3.6" ry="3.2"/>
<ellipse cx="1129.1" cy="277.8" rx="3.6" ry="3.2"/>
<ellipse cx="1148.6" cy="271.9" rx="3.6" ry="3.2"/>
<ellipse cx="1148.0" cy="284.8" rx="3.6" ry="3.2"/>
<ellipse cx="1148.5" cy="270.0" rx="3.6" ry="3.2"/>
<ellipse cx="1128.0" cy="266.7" rx="3.6" ry="3.2"/>
<ellipse cx="1127.3" cy="266.2" rx="3.6" ry="3.2"/>
<ellipse cx="1139.3" cy="282.7" rx="3.6" ry="3.2"/>
<ellipse cx="1145.3" cy="272.7" rx="3.6" ry="3.2"/>
<ellipse cx="1140.1" cy="280.3" rx="3.6" ry="3.2"/>
<ellipse cx="1124.2" cy="277.0" rx="3.6" ry="3.2"/>
<ellipse cx="1147.3" cy="279.9" rx="3.6" ry="3.2"/>
<ellipse cx="1142.8" cy="272.7" rx="3.6" ry="3.2"/>
<ellipse cx="1126.8" cy="280.1" rx="3.6" ry="3.2"/>
<ellipse cx="1131.1" cy="280.4" rx="3.6" ry="3.2"/>
<ellipse cx="1149.0" cy="270.7" rx="3.6" ry="3.2"/>
<ellipse cx="1133.0" cy="283.8" rx="3.6" ry="3.2"/>
<ellipse cx="1142.1" cy="265.3" rx="3.6" ry="3.2"/>
<ellipse cx="1125.4" cy="264.9" rx="3.6" ry="3.2"/>
<ellipse cx="1147.1" cy="280.5" rx="3.6" ry="3.2"/>
<ellipse cx="1125.9" cy="281.0" rx="3.6" ry="3.2"/>
<ellipse cx="1149.2" cy="276.9" rx="3.6" ry="3.2"/>
<ellipse cx="1131.6" cy="274.4" rx="3.6" ry="3.2"/>
<ellipse cx="1125.5" cy="261.6" rx="3.6" ry="3.2"/>
<ellipse cx="1149.0" cy="276.8" rx="3.6" ry="3.2"/>
<ellipse cx="1136.5" cy="283.5" rx="3.6" ry="3.2"/>
<ellipse cx="1133.9" cy="282.0" rx="3.6" ry="3.2"/>
<ellipse cx="1144.9" cy="266.3" rx="3.6" ry="3.2"/>
<ellipse cx="1128.9" cy="268.3" rx="3.6" ry="3.2"/>
<ellipse cx="1128.5" cy="275.3" rx="3.6" ry="3.2"/>
<ellipse cx="1129.1" cy="271.3" rx="3.6" ry="3.2"/>
<ellipse cx="1125.5" cy="283.0" rx="3.6" ry="3.2"/>
<ellipse cx="1131.7" cy="272.2" rx="3.6" ry="3.2"/>
<ellipse cx="1138.1" cy="282.8" rx="3.6" ry="3.2"/>
<ellipse cx="1133.6" cy="283.1" rx="3.6" ry="3.2"/>
<ellipse cx="1135.8" cy="274.0" rx="3.6" ry="3.2"/>
<ellipse cx="1136.5" cy="261.7" rx="3.6" ry="3.2"/>
<ellipse cx="1134.1" cy="265.7" rx="3.6" ry="3.2"/>
<ellipse cx="1121.9" cy="280.3" rx="3.6" ry="3.2"/>
<ellipse cx="1126.6" cy="272.6" rx="3.6" ry="3.2"/>
<ellipse cx="1142.1" cy="274.5" rx="3.6" ry="3.2"/>
<ellipse cx="1130.9" cy="273.6" rx="3.6" ry="3.2"/>
<ellipse cx="1137.4" cy="280.0" rx="3.6" ry="3.2"/>
<ellipse cx="1124.8" cy="274.6" rx="3.6" ry="3.2"/>
<ellipse cx="1128.8" cy="267.9" rx="3.6" ry="3.2"/>
</g>
<ellipse cx="934.9" cy="302.2" rx="2.7" ry="2.3" fill="none" stroke="#b2b2b2" stroke-width="1.4"/>
<line x1="768.8" y1="242.4" x2="768.8" y2="315.4" stroke="#262626" stroke-width="1.5"/>
<line x1="768.8" y1="385.2" x2="768.8" y2="455.2" stroke="#262626" stroke-width="1.5"/>
<rect x="742.8" y="315.4" width="52.20" height="69.80" fill="#f5a15a" fill-opacity="0.72" stroke="#262626" stroke-width="1.5"/>
<line x1="742.8" y1="344.2" x2="795.0" y2="344.2" stroke="#1e1e1e" stroke-width="3"/>
<line x1="826.9" y1="229.6" x2="826.9" y2="240.8" stroke="#262626" stroke-width="1.5"/>
<line x1="826.9" y1="272.8" x2="826.9" y2="304.2" stroke="#262626" stroke-width="1.5"/>
<rect x="800.4" y="240.8" width="52.80" height="32.00" fill="#6dbf68" fill-opacity="0.72" stroke="#262626" stroke-width="1.5"/>
<line x1="800.4" y1="254.2" x2="853.2" y2="254.2" stroke="#1e1e1e" stroke-width="3"/>
<line x1="923.5" y1="223.2" x2="923.5" y2="318.4" stroke="#262626" stroke-width="1.5"/>
<line x1="923.5" y1="403.1" x2="923.5" y2="467.7" stroke="#262626" stroke-width="1.5"/>
<rect x="897.6" y="318.4" width="51.80" height="84.70" fill="#f5a15a" fill-opacity="0.72" stroke="#262626" stroke-width="1.5"/>
<line x1="897.6" y1="356.5" x2="949.4" y2="356.5" stroke="#1e1e1e" stroke-width="3"/>
<line x1="981.2" y1="199.2" x2="981.2" y2="223.2" stroke="#262626" stroke-width="1.5"/>
<line x1="981.2" y1="260.9" x2="981.2" y2="296.7" stroke="#262626" stroke-width="1.5"/>
<rect x="955.1" y="223.2" width="52.10" height="37.70" fill="#6dbf68" fill-opacity="0.72" stroke="#262626" stroke-width="1.5"/>
<line x1="955.1" y1="240.1" x2="1007.2" y2="240.1" stroke="#1e1e1e" stroke-width="3"/>
<line x1="1078.1" y1="237.5" x2="1078.1" y2="288.1" stroke="#262626" stroke-width="1.5"/>
<line x1="1078.1" y1="351.7" x2="1078.1" y2="445.3" stroke="#262626" stroke-width="1.5"/>
<rect x="1051.7" y="288.1" width="52.10" height="63.60" fill="#f5a15a" fill-opacity="0.72" stroke="#262626" stroke-width="1.5"/>
<line x1="1051.7" y1="315.9" x2="1103.8" y2="315.9" stroke="#1e1e1e" stroke-width="3"/>
<line x1="1135.8" y1="239.1" x2="1135.8" y2="258.3" stroke="#262626" stroke-width="1.5"/>
<line x1="1135.8" y1="288.1" x2="1135.8" y2="317.5" stroke="#262626" stroke-width="1.5"/>
<rect x="1109.5" y="258.3" width="52.50" height="29.80" fill="#6dbf68" fill-opacity="0.72" stroke="#262626" stroke-width="1.5"/>
<line x1="1109.5" y1="268.6" x2="1162.0" y2="268.6" stroke="#1e1e1e" stroke-width="3"/>
<line x1="797.6" y1="486" x2="797.6" y2="494.8" stroke="#777" stroke-width="1.2"/>
<line x1="952.5" y1="486" x2="952.5" y2="494.8" stroke="#777" stroke-width="1.2"/>
<line x1="1106.9" y1="486" x2="1106.9" y2="494.8" stroke="#777" stroke-width="1.2"/>
<text x="0" y="0" font-size="18" text-anchor="end" fill="#1e1e1e" textLength="155.84" lengthAdjust="spacingAndGlyphs" transform="translate(806.60,512.00) rotate(-45)">NPC versus hiPSC</text>
<text x="0" y="0" font-size="18" text-anchor="end" fill="#1e1e1e" textLength="191.17" lengthAdjust="spacingAndGlyphs" transform="translate(961.50,512.00) rotate(-45)">Neurons versus hiPSC</text>
<text x="0" y="0" font-size="18" text-anchor="end" fill="#1e1e1e" textLength="145.58" lengthAdjust="spacingAndGlyphs" transform="translate(1115.90,512.00) rotate(-45)">CM versus hiPSC</text>
<rect x="737.5" y="662.5" width="19.5" height="18.8" fill="#9ad194" stroke="#333" stroke-width="1.4"/>
<text x="763.30" y="677.20" font-size="18.5" textLength="148.70" lengthAdjust="spacingAndGlyphs" fill="#1e1e1e">Major isodecoder</text>
<rect x="956.1" y="662.5" width="19.5" height="18.8" fill="#f9bc88" stroke="#333" stroke-width="1.4"/>
<text x="981.80" y="677.20" font-size="18.5" textLength="149.80" lengthAdjust="spacingAndGlyphs" fill="#1e1e1e">Minor isodecoder</text>
</svg></body></html>
